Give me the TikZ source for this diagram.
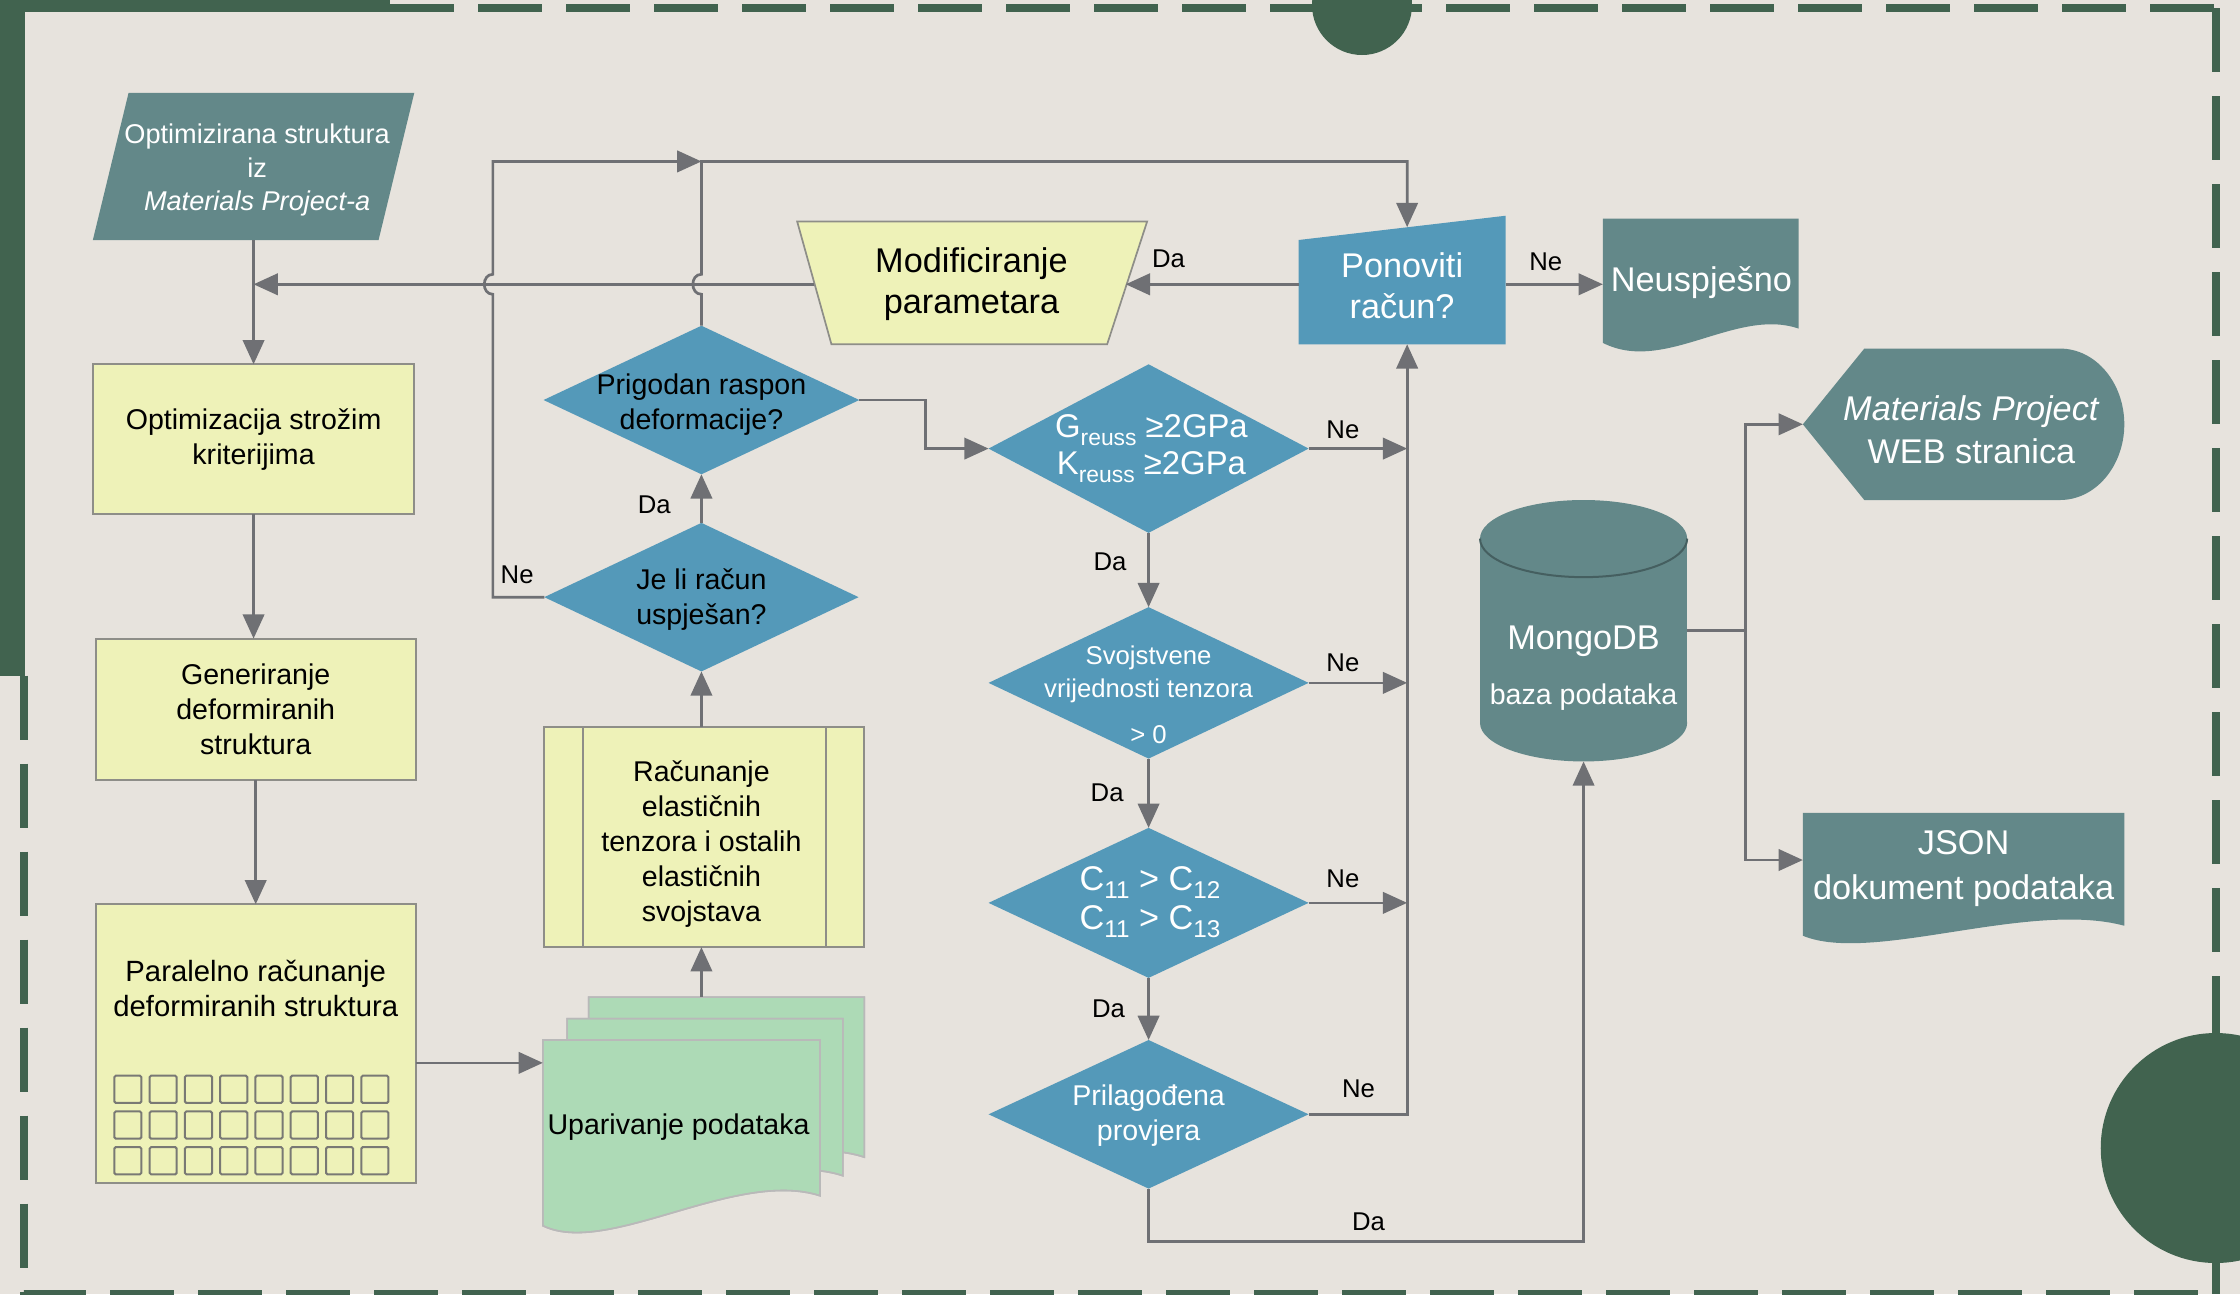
\documentclass[tikz,border=0pt]{standalone}
\usepackage{fontspec}
\setmainfont{Liberation Sans}
\usetikzlibrary{shapes.geometric,arrows.meta,calc}

\definecolor{paper}{HTML}{E7E3DD}
\definecolor{pine}{HTML}{41634F}
\definecolor{slate}{HTML}{638889}
\definecolor{steel}{HTML}{5499B9}
\definecolor{cream}{HTML}{EEF2B8}
\definecolor{mint}{HTML}{ADDAB6}
\definecolor{wire}{HTML}{6F7074}
\definecolor{rim}{HTML}{8E8E88}

\newcommand{\fsz}[2]{\fontsize{#1}{#2}\selectfont}
\newcommand{\lowidx}[2]{\raisebox{-0.45ex}{\fsz{#1}{#1}#2}}

\begin{document}
\begin{tikzpicture}[x=1pt,y=-1pt,
  every node/.style={inner sep=0pt, outer sep=0pt},
  txt/.style={align=center, text=black, font=\fsz{20}{24.5}},
  wtxt/.style={txt, text=white},
  ybox/.style={rectangle, draw=rim, line width=1.5pt, fill=cream, align=center, font=\fsz{20}{24.5}},
  ghost/.style={rectangle, draw=none},
  decision/.style={diamond, fill=steel, draw=none},
  conn/.style={draw=wire, line width=1.9pt},
  arr/.style={conn, -{Triangle[length=17pt,width=15pt]}},
  lbl/.style={text=black, font=\fsz{18}{20}},
  cell/.style={draw=rim!85!black, line width=1.4pt, fill=cream, rounded corners=1pt},
  sheet/.style={fill=mint, draw=gray!55, line width=1.1pt},
  framedash/.style={draw=pine, line width=5.6pt, dash pattern=on 44.8pt off 16.8pt},
]
% page and decorative frame
\useasboundingbox (0,0) rectangle (1568,906);
\fill[paper] (0,0) rectangle (1568,906);
\fill[pine] (0,0) rectangle (273,8.5);
\fill[pine] (0,0) rectangle (17.5,473);
\draw[framedash] (273,5.6) -- (1551,5.6);
\draw[framedash] (1551,5.6) -- (1551,906);
\draw[framedash] (16.8,473) -- (16.8,905.5) -- (1551,905.5);
\fill[pine] (953.4,3.5) circle[radius=35];
\fill[pine] (1551,803.6) circle[radius=80.5];

% ---------- left column ----------
\node[ghost, minimum width=225pt, minimum height=103pt] (src) at (177.5,116.5) {};
\fill[slate] ($(src.north west)+(25,0)$) -- (src.north east) -- ($(src.south east)+(-25,0)$) -- (src.south west) -- cycle;
\node[wtxt, font=\fsz{19}{23.5}] (srct) at (180,119) {Optimizirana struktura\\iz\\\textit{Materials Project-a}};

\node[ybox, minimum width=225pt, minimum height=105pt] (opt) at (177.5,307.5) {Optimizacija strožim\\kriterijima};
\node[ybox, minimum width=224pt, minimum height=99pt] (gen) at (179,496.5) {Generiranje\\deformiranih\\struktura};
\node[ybox, minimum width=224pt, minimum height=195pt] (par) at (179,730.5) {};
\node[txt, font=\fsz{20.5}{24}] (part) at (179,692) {Paralelno računanje\\deformiranih struktura};
\foreach \i in {0,...,7}
  \foreach \j in {0,1,2}
    \draw[cell] (80+\i*24.7,753+\j*25) rectangle +(19,19);

% ---------- stacked documents ----------
\fill[sheet] (412,698) -- (605,698) -- (605,810) .. controls (545,790) and (455,850) .. (412,828) -- cycle;
\draw[gray!55, line width=1.1pt] (412,698) -- (605,698) -- (605,810) .. controls (545,790) and (455,850) .. (412,828) -- cycle;
\fill[sheet] (397,713) -- (590,713) -- (590,823) .. controls (530,803) and (440,865) .. (397,843) -- cycle;
\draw[gray!55, line width=1.1pt] (397,713) -- (590,713) -- (590,823) .. controls (530,803) and (440,865) .. (397,843) -- cycle;
\fill[sheet] (380,728) -- (574,728) -- (574,837) .. controls (515,818) and (425,880) .. (380,858) -- cycle;
\draw[gray!55, line width=1.1pt] (380,728) -- (574,728) -- (574,837) .. controls (515,818) and (425,880) .. (380,858) -- cycle;
\node[ghost, minimum width=194pt, minimum height=137pt] (upar) at (477,796.5) {};
\node[txt] (upart) at (475,789) {Uparivanje podataka};

% ---------- second column ----------
\node[ybox, minimum width=224pt, minimum height=154pt] (rac) at (493,586) {};
\draw[rim, line width=1.5pt] ($(rac.north west)+(27,0)$) -- ($(rac.south west)+(27,0)$);
\draw[rim, line width=1.5pt] ($(rac.north east)+(-27,0)$) -- ($(rac.south east)+(-27,0)$);
\node[txt] (ract) at (491,591) {Računanje\\elastičnih\\tenzora i ostalih\\elastičnih\\svojstava};

\node[decision, minimum width=220pt, minimum height=104pt] (jeli) at (491,418) {};
\node[txt] (jelit) at (491,419.5) {Je li račun\\uspješan?};
\node[decision, minimum width=221pt, minimum height=104pt] (prig) at (491,280) {};
\node[txt] (prigt) at (491,283.5) {Prigodan raspon\\deformacije?};

% ---------- checks ----------
\node[decision, minimum width=224pt, minimum height=118pt] (greuss) at (804,314) {};
\node[wtxt, font=\fsz{23}{26}] (greusst) at (806,314) {G\lowidx{16}{reuss} ≥2GPa\\K\lowidx{16}{reuss} ≥2GPa};
\node[decision, minimum width=224pt, minimum height=106pt] (svoj) at (804,478) {};
\node[wtxt, font=\fsz{18}{22.5}] (svojt) at (804,486.5) {Svojstvene\\vrijednosti tenzora\\[10pt]> 0};
\node[decision, minimum width=224pt, minimum height=105pt] (c11) at (804,632) {};
\node[wtxt, font=\fsz{24}{27}] (c11t) at (805,631.5) {C\lowidx{17}{11} > C\lowidx{17}{12}\\C\lowidx{17}{11} > C\lowidx{17}{13}};
\node[decision, minimum width=224pt, minimum height=104pt] (pril) at (804,780) {};
\node[wtxt] (prilt) at (804,781) {Prilagođena\\provjera};

% ---------- retry and modification ----------
\node[ghost, minimum width=145pt, minimum height=90pt] (ponov) at (981.5,196) {};
\fill[steel] (ponov.south west) -- ($(ponov.north west)+(0,17)$) -- (ponov.north east) -- (ponov.south east) -- cycle;
\node[wtxt, font=\fsz{24}{29}] (ponovt) at (981.5,200) {Ponoviti\\račun?};

\node[ghost, minimum width=245pt, minimum height=86pt] (modif) at (680.5,198) {};
\filldraw[fill=cream, draw=rim, line width=1.2pt] (modif.north west) -- (modif.north east) -- ($(modif.south east)+(-28,0)$) -- ($(modif.south west)+(24,0)$) -- cycle;
\node[txt, font=\fsz{24}{29}] (modift) at (680,199) {Modificiranje\\parametara};

\node[ghost, minimum width=137pt, minimum height=92pt] (neus) at (1190.5,199) {};
\fill[slate] (1122,153) -- (1259,153) -- (1259,230) .. controls (1215,215) and (1165,262) .. (1122,240) -- cycle;
\node[wtxt, font=\fsz{24}{29}] (neust) at (1191,198) {Neuspješno};

% ---------- database and outputs ----------
\node[ghost, minimum width=145pt, minimum height=183pt] (mongo) at (1108.5,441.5) {};
\fill[slate] (1036,377) rectangle (1181,506);
\fill[slate] (1108.5,377) ellipse[x radius=72.5, y radius=27];
\fill[slate] (1108.5,506) ellipse[x radius=72.5, y radius=27];
\draw[slate!70!black, line width=1.4pt] (1036,377) .. controls (1036,392) and (1068.5,404) .. (1108.5,404) .. controls (1148.5,404) and (1181,392) .. (1181,377);
\node[wtxt, font=\fsz{24}{28}] (mongot) at (1108.5,449) {MongoDB};
\node[wtxt, font=\fsz{20}{24}] (mongob) at (1108.5,488) {baza podataka};

\node[ghost, minimum width=225pt, minimum height=106pt] (web) at (1374.5,297) {};
\fill[slate] (1262,297) -- (1305,244) -- (1442,244) .. controls (1467,244) and (1487,268) .. (1487,297) .. controls (1487,326) and (1467,350) .. (1442,350) -- (1305,350) -- cycle;
\node[wtxt, font=\fsz{24}{30}] (webt) at (1380,301) {\textit{Materials Project}\\WEB stranica};

\node[ghost, minimum width=225pt, minimum height=86pt] (json) at (1374.5,612) {};
\fill[slate] (1262,569) -- (1487,569) -- (1487,648) .. controls (1420,630) and (1310,675) .. (1262,655) -- cycle;
\node[wtxt, font=\fsz{24}{32}] (jsont) at (1374.5,608) {JSON\\dokument podataka};

% ---------- connectors ----------
\coordinate (upin) at (380,744);
\coordinate (upout) at (491,698);
\coordinate (loopx) at (345,113);
\coordinate (join) at (491,113);
\coordinate (topr) at (985,113);
\coordinate (ponin) at (985,159);
\coordinate (modout) at (570,199);
\coordinate (modin) at (788,199);
\coordinate (dabase) at (804,869);
\coordinate (fork) at (1222,441.5);
\coordinate (jsonin) at (1262,602);

\draw[arr] (src.south) -- (opt.north);
\draw[arr] (opt.south) -- (opt.south |- gen.north);
\draw[arr] (gen.south) -- (par.north);
\draw[arr] (par.east |- upin) -- (upin);
\draw[arr] (upout) -- (upout |- rac.south);
\draw[arr] (jeli.south |- rac.north) -- (jeli.south);
\draw[arr] (jeli.north) -- (prig.south);

% loops back over the parameter line with small jumps
\draw[arr] (jeli.west) -- (jeli.west -| loopx) -- (345,206) .. controls (337,206) and (337,192) .. (345,192) -- (loopx) -- (join);
\draw[arr] (prig.north) -- (491,206) .. controls (483,206) and (483,192) .. (491,192) -- (join) -- (topr) -- (ponin);

\draw[arr] (prig.east) -- (648,280) -- (648,314) -- (greuss.west);
\draw[arr] (greuss.east) -- (greuss.east -| ponin);
\draw[arr] (greuss.south) -- (svoj.north);
\draw[arr] (svoj.east) -- (svoj.east -| ponin);
\draw[arr] (svoj.south) -- (c11.north);
\draw[arr] (c11.east) -- (c11.east -| ponin);
\draw[arr] (c11.south) -- (pril.north);
\draw[arr] (pril.east) -- (pril.east -| ponin) -- (ponov.south -| ponin);
\draw[arr] (pril.south) -- (dabase) -- (dabase -| mongo.south) -- (mongo.south);
\draw[arr] (ponov.west |- modin) -- (modin);
\draw[arr] (modout) -- (src.south |- modout);
\draw[arr] (ponov.east |- neus.west) -- (neus.west);
\draw[conn] (mongo.east) -- (fork);
\draw[arr] (fork) -- (fork |- web.west) -- (web.west);
\draw[arr] (fork) -- (fork |- jsonin) -- (jsonin);

% ---------- branch labels ----------
\node[lbl] (l1) at (458,353) {Da};
\node[lbl] (l2) at (362,402) {Ne};
\node[lbl] (l3) at (940,301) {Ne};
\node[lbl] (l4) at (777,393) {Da};
\node[lbl] (l5) at (940,464) {Ne};
\node[lbl] (l6) at (775,555) {Da};
\node[lbl] (l7) at (940,615) {Ne};
\node[lbl] (l8) at (776,706) {Da};
\node[lbl] (l9) at (951,762) {Ne};
\node[lbl] (l10) at (958,855) {Da};
\node[lbl] (l11) at (818,181) {Da};
\node[lbl] (l12) at (1082,183) {Ne};
\end{tikzpicture}
\end{document}
